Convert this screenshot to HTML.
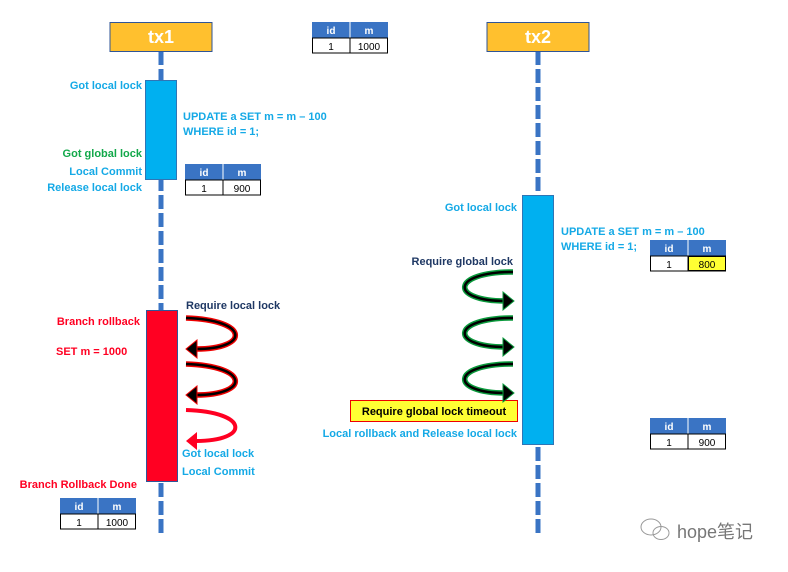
<!DOCTYPE html>
<html><head><meta charset="utf-8"><style>
body{margin:0;background:#fff}
text{font-family:"Liberation Sans","Noto Sans CJK SC",sans-serif;font-weight:bold}
</style></head><body>
<svg width="788" height="567" viewBox="0 0 788 567" xmlns="http://www.w3.org/2000/svg">
<defs>
<g id="tbl">
<rect x="0" y="0" width="76" height="16" fill="#3A74C4"/>
<line x1="38" y1="0" x2="38" y2="16" stroke="#fff" stroke-width="1"/>
<rect x="0.5" y="16" width="75" height="15" fill="#fff" stroke="#000"/>
<line x1="38" y1="16" x2="38" y2="31" stroke="#000"/>
<text x="19" y="12" fill="#fff" font-size="10" text-anchor="middle">id</text>
<text x="57" y="12" fill="#fff" font-size="10" text-anchor="middle">m</text>
<text x="19" y="28" fill="#000" font-size="10" text-anchor="middle" style="font-weight:normal">1</text>
</g>
<g id="gloop">
<path d="M513,0 C450,0 450,29 505,29" fill="none" stroke="#0A9A3C" stroke-width="5.5"/>
<path d="M513,0 C450,0 450,29 505,29" fill="none" stroke="#000" stroke-width="2.5"/>
<polygon points="503,20 514,29 503,38" fill="#000" stroke="#0A9A3C" stroke-width="1"/>
</g>
<g id="rloop">
<path d="M186,0 C250,2 250,31 196,31" fill="none" stroke="#E00" stroke-width="5.5"/>
<path d="M186,0 C250,2 250,31 196,31" fill="none" stroke="#000" stroke-width="2.5"/>
<polygon points="197,22 186,31 197,40" fill="#000" stroke="#E00" stroke-width="1"/>
</g>
</defs>
<line x1="161" y1="51" x2="161" y2="537" stroke="#3A74C4" stroke-width="5" stroke-dasharray="14,4"/>
<line x1="538" y1="51" x2="538" y2="537" stroke="#3A74C4" stroke-width="5" stroke-dasharray="14,4"/>
<rect x="110" y="22.5" width="102" height="29" fill="#FFC02E" stroke="#2F5597"/>
<text x="161" y="43" fill="#fff" font-size="18" text-anchor="middle">tx1</text>
<rect x="487" y="22.5" width="102" height="29" fill="#FFC02E" stroke="#2F5597"/>
<text x="538" y="43" fill="#fff" font-size="18" text-anchor="middle">tx2</text>
<g transform="translate(312,22)"><use href="#tbl"/><text x="57" y="28" font-size="10" text-anchor="middle" style="font-weight:normal">1000</text></g>
<g transform="translate(185,164)"><use href="#tbl"/><text x="57" y="28" font-size="10" text-anchor="middle" style="font-weight:normal">900</text></g>
<g transform="translate(650,240)"><use href="#tbl"/><rect x="38.5" y="16.5" width="37" height="14" fill="#FFFF33" stroke="#000"/><text x="57" y="28" font-size="10" text-anchor="middle" style="font-weight:normal">800</text></g>
<g transform="translate(650,418)"><use href="#tbl"/><text x="57" y="28" font-size="10" text-anchor="middle" style="font-weight:normal">900</text></g>
<g transform="translate(60,498)"><use href="#tbl"/><text x="57" y="28" font-size="10" text-anchor="middle" style="font-weight:normal">1000</text></g>
<rect x="145.5" y="80.5" width="31" height="99" fill="#00B0F0" stroke="#2F75B5"/>
<rect x="522.5" y="195.5" width="31" height="249" fill="#00B0F0" stroke="#2F75B5"/>
<rect x="146.5" y="310.5" width="31" height="171" fill="#FF0022" stroke="#2F5597"/>
<g font-size="11">
<text x="142" y="89" fill="#14A9E6" text-anchor="end">Got local lock</text>
<text x="183" y="120" fill="#14A9E6">UPDATE a SET m = m – 100</text>
<text x="183" y="135" fill="#14A9E6">WHERE id = 1;</text>
<text x="142" y="157" fill="#12A84A" text-anchor="end">Got global lock</text>
<text x="142" y="175" fill="#14A9E6" text-anchor="end">Local Commit</text>
<text x="142" y="191" fill="#14A9E6" text-anchor="end">Release local lock</text>
<text x="517" y="211" fill="#14A9E6" text-anchor="end">Got local lock</text>
<text x="561" y="235" fill="#14A9E6">UPDATE a SET m = m – 100</text>
<text x="561" y="250" fill="#14A9E6">WHERE id = 1;</text>
<text x="513" y="265" fill="#1F3864" text-anchor="end">Require global lock</text>
<text x="186" y="309" fill="#1F3864">Require local lock</text>
<text x="140" y="325" fill="#FF0022" text-anchor="end">Branch rollback</text>
<text x="56" y="355" fill="#FF0022">SET m = 1000</text>
<text x="182" y="457" fill="#14A9E6">Got local lock</text>
<text x="182" y="475" fill="#14A9E6">Local Commit</text>
<text x="137" y="488" fill="#FF0022" text-anchor="end">Branch Rollback Done</text>
<rect x="350.5" y="400.5" width="167" height="21" fill="#FFFF33" stroke="#E00"/>
<text x="434" y="415" fill="#000" text-anchor="middle">Require global lock timeout</text>
<text x="517" y="437" fill="#14A9E6" text-anchor="end">Local rollback and Release local lock</text>
</g>
<use href="#gloop" transform="translate(0,272)"/>
<use href="#gloop" transform="translate(0,318)"/>
<use href="#gloop" transform="translate(0,364)"/>
<use href="#rloop" transform="translate(0,318)"/>
<use href="#rloop" transform="translate(0,364)"/>
<g transform="translate(0,410)">
<path d="M186,0 C250,2 250,31 196,31" fill="none" stroke="#FF0022" stroke-width="4"/>
<polygon points="197,22 186,31 197,40" fill="#FF0022"/>
</g>
<g fill="none" stroke="#999" stroke-width="1">
<ellipse cx="651" cy="527" rx="10" ry="8"/>
<ellipse cx="661" cy="533" rx="8" ry="6.5"/>
</g>
<text x="677" y="538" font-size="18" fill="#777" style="font-weight:normal">hope笔记</text>
</svg>
</body></html>
